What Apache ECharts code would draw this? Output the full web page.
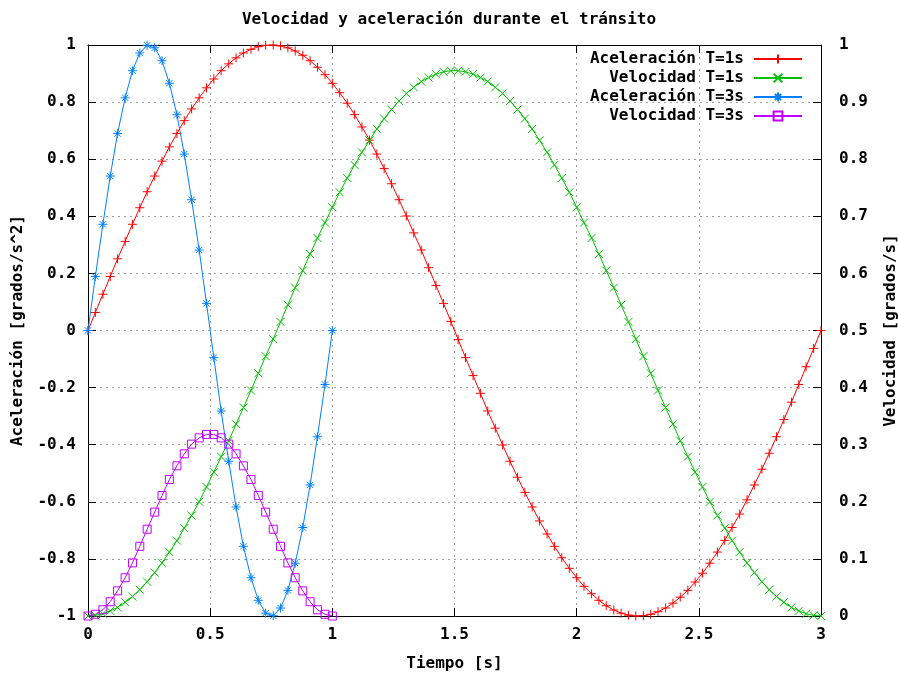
<!DOCTYPE html>
<html>
<head>
<meta charset="utf-8">
<script src="https://cdn.jsdelivr.net/npm/echarts@6/dist/echarts.min.js"></script>
<style>
html,body{margin:0;padding:0;background:#fff;}
#chart{width:898px;height:675px;}
</style>
</head>
<body>
<div id="chart"></div>
<script>
// Sample times [s]
const tSeconds = [
  0, 0.030, 0.061, 0.091, 0.121, 0.152, 0.182, 0.212, 0.242, 0.273, 0.303, 0.333, 0.364, 0.394, 0.424, 0.455, 0.485,
  0.515, 0.545, 0.576, 0.606, 0.636, 0.667, 0.697, 0.727, 0.758, 0.788, 0.818, 0.848, 0.879, 0.909, 0.939, 0.970, 1.000,
  1.030, 1.061, 1.091, 1.121, 1.152, 1.182, 1.212, 1.242, 1.273, 1.303, 1.333, 1.364, 1.394, 1.424, 1.455, 1.485,
  1.515, 1.545, 1.576, 1.606, 1.636, 1.667, 1.697, 1.727, 1.758, 1.788, 1.818, 1.848, 1.879, 1.909, 1.939, 1.970, 2.000,
  2.030, 2.061, 2.091, 2.121, 2.152, 2.182, 2.212, 2.242, 2.273, 2.303, 2.333, 2.364, 2.394, 2.424, 2.455, 2.485,
  2.515, 2.545, 2.576, 2.606, 2.636, 2.667, 2.697, 2.727, 2.758, 2.788, 2.818, 2.848, 2.879, 2.909, 2.939, 2.970, 3.000
];
// Aceleración T=1s (left axis)
const acelT1 = [
  0, 0.063, 0.127, 0.189, 0.251, 0.312, 0.372, 0.430, 0.486, 0.541, 0.593, 0.643, 0.690, 0.735, 0.776, 0.815, 0.850,
  0.881, 0.910, 0.934, 0.955, 0.972, 0.985, 0.994, 0.999, 1.000, 0.997, 0.990, 0.979, 0.964, 0.945, 0.922, 0.896, 0.866,
  0.833, 0.796, 0.756, 0.713, 0.667, 0.618, 0.567, 0.514, 0.458, 0.401, 0.342, 0.282, 0.220, 0.158, 0.095, 0.032,
  -0.032, -0.095, -0.158, -0.220, -0.282, -0.342, -0.401, -0.458, -0.514, -0.567, -0.618, -0.667, -0.713, -0.756, -0.796, -0.833,
  -0.866, -0.896, -0.922, -0.945, -0.964, -0.979, -0.990, -0.997, -1.000, -0.999, -0.994, -0.985, -0.972, -0.955, -0.934,
  -0.910, -0.881, -0.850, -0.815, -0.776, -0.735, -0.690, -0.643, -0.593, -0.541, -0.486, -0.430, -0.372, -0.312, -0.251,
  -0.189, -0.127, -0.063, 0
];
// Velocidad T=1s (right axis)
const velT1 = [
  0, 0.001, 0.004, 0.009, 0.015, 0.024, 0.034, 0.046, 0.060, 0.076, 0.093, 0.112, 0.132, 0.154, 0.176, 0.200, 0.226,
  0.252, 0.279, 0.307, 0.336, 0.365, 0.395, 0.425, 0.455, 0.485, 0.515, 0.545, 0.575, 0.605, 0.634, 0.662, 0.689, 0.716,
  0.742, 0.767, 0.790, 0.812, 0.833, 0.853, 0.871, 0.887, 0.902, 0.915, 0.926, 0.936, 0.943, 0.949, 0.953, 0.955,
  0.955, 0.953, 0.949, 0.943, 0.936, 0.926, 0.915, 0.902, 0.887, 0.871, 0.853, 0.833, 0.812, 0.790, 0.767, 0.742,
  0.716, 0.689, 0.662, 0.634, 0.605, 0.575, 0.545, 0.515, 0.485, 0.455, 0.425, 0.395, 0.365, 0.336, 0.307,
  0.279, 0.252, 0.226, 0.200, 0.176, 0.154, 0.132, 0.112, 0.093, 0.076, 0.060, 0.046, 0.034, 0.024, 0.015,
  0.009, 0.004, 0.001, 0
];
// Aceleración T=3s (left axis), first 34 samples (0..1 s)
const acelT3 = [
  0, 0.189, 0.372, 0.541, 0.690, 0.815, 0.910, 0.972, 0.999, 0.990, 0.945, 0.866, 0.756, 0.618, 0.458, 0.282, 0.095,
  -0.095, -0.282, -0.458, -0.618, -0.756, -0.866, -0.945, -0.990, -0.999, -0.972, -0.910, -0.815, -0.690, -0.541, -0.372, -0.189, 0
];
// Velocidad T=3s (right axis), first 34 samples (0..1 s)
const velT3 = [
  0, 0.003, 0.011, 0.025, 0.044, 0.067, 0.093, 0.122, 0.152, 0.182, 0.211, 0.239, 0.263, 0.284, 0.301, 0.312, 0.318,
  0.318, 0.312, 0.301, 0.284, 0.263, 0.239, 0.211, 0.182, 0.152, 0.122, 0.093, 0.067, 0.044, 0.025, 0.011, 0.003, 0
];
const seriesNames = ['Aceleración T=1s', 'Velocidad T=1s', 'Aceleración T=3s', 'Velocidad T=3s'];

const FONT = 'DejaVu Sans Mono';
const txt = {fontFamily: FONT, fontWeight: 'bold', fontSize: 16, color: '#000'};

function pairs(ts, vs) { return vs.map((v, i) => [ts[i], v]); }

const symPlus = 'path://M5,0L5,10M0,5L10,5';
const symCross = 'path://M0,0L10,10M0,10L10,0';
const symStar = 'path://M5,0L5,10M0,5L10,5M1.5,1.5L8.5,8.5M1.5,8.5L8.5,1.5';
const symSquare = 'path://M0,0L10,0L10,10L0,10Z';

function mkSeries(name, data, yIdx, color, symbol, size) {
  return {
    name, type: 'line', data, yAxisIndex: yIdx, xAxisIndex: 0,
    symbol, symbolSize: size, showAllSymbol: true,
    lineStyle: {color, width: 1},
    itemStyle: {color: 'rgba(0,0,0,0)', borderColor: color, borderWidth: 1},
    emphasis: {disabled: true},
    animation: false
  };
}

const chart = echarts.init(document.getElementById('chart'), null, {renderer: 'canvas'});
const axisLineBlack = {show: true, onZero: false, lineStyle: {color: '#000', width: 1}};
const gridDots = {show: true, lineStyle: {color: '#a0a0a0', width: 1, type: [2, 4]}};
const tickIn = {show: true, inside: true, length: 8, lineStyle: {color: '#000'}};

chart.setOption({
  backgroundColor: '#fff',
  animation: false,
  title: {
    text: 'Velocidad y aceleración durante el tránsito',
    left: 'center', top: 7,
    textStyle: Object.assign({}, txt)
  },
  legend: {
    data: seriesNames,
    orient: 'vertical',
    align: 'right',
    right: 95, top: 51,
    padding: 0,
    itemWidth: 48, itemHeight: 11, itemGap: 3,
    textStyle: Object.assign({}, txt, {lineHeight: 16, padding: [0, 5, 0, 0]})
  },
  grid: {left: 88, right: 77, top: 45, bottom: 59, containLabel: false, outerBoundsMode: 'none'},
  xAxis: [
    {
      type: 'value', min: 0, max: 3, interval: 0.5, position: 'bottom',
      name: 'Tiempo [s]', nameLocation: 'middle', nameGap: 40, nameMoveOverlap: false,
      nameTextStyle: Object.assign({}, txt),
      axisLine: axisLineBlack,
      axisTick: tickIn,
      axisLabel: Object.assign({margin: 11}, txt),
      splitLine: gridDots
    },
    {
      type: 'value', min: 0, max: 3, interval: 0.5, position: 'top',
      axisLine: axisLineBlack,
      axisTick: tickIn,
      axisLabel: {show: false},
      splitLine: {show: false}
    }
  ],
  yAxis: [
    {
      type: 'value', min: -1, max: 1, interval: 0.2, position: 'left',
      name: 'Aceleración [grados/s^2]', nameLocation: 'middle', nameGap: 62, nameRotate: 90, nameMoveOverlap: false,
      nameTextStyle: Object.assign({}, txt),
      axisLine: axisLineBlack,
      axisTick: tickIn,
      axisLabel: Object.assign({margin: 12}, txt),
      splitLine: gridDots
    },
    {
      type: 'value', min: 0, max: 1, interval: 0.1, position: 'right',
      name: 'Velocidad [grados/s]', nameLocation: 'middle', nameGap: 62, nameRotate: 90, nameMoveOverlap: false,
      nameTextStyle: Object.assign({}, txt),
      axisLine: axisLineBlack,
      axisTick: tickIn,
      axisLabel: Object.assign({margin: 18}, txt),
      splitLine: {show: false}
    }
  ],
  series: [
    mkSeries(seriesNames[0], pairs(tSeconds, acelT1), 0, '#ff0000', symPlus, 9),
    mkSeries(seriesNames[1], pairs(tSeconds, velT1), 1, '#00c000', symCross, 8),
    mkSeries(seriesNames[2], pairs(tSeconds, acelT3), 0, '#0080ff', symStar, 9),
    mkSeries(seriesNames[3], pairs(tSeconds, velT3), 1, '#c000ff', symSquare, 8)
  ]
});
</script>
</body>
</html>
